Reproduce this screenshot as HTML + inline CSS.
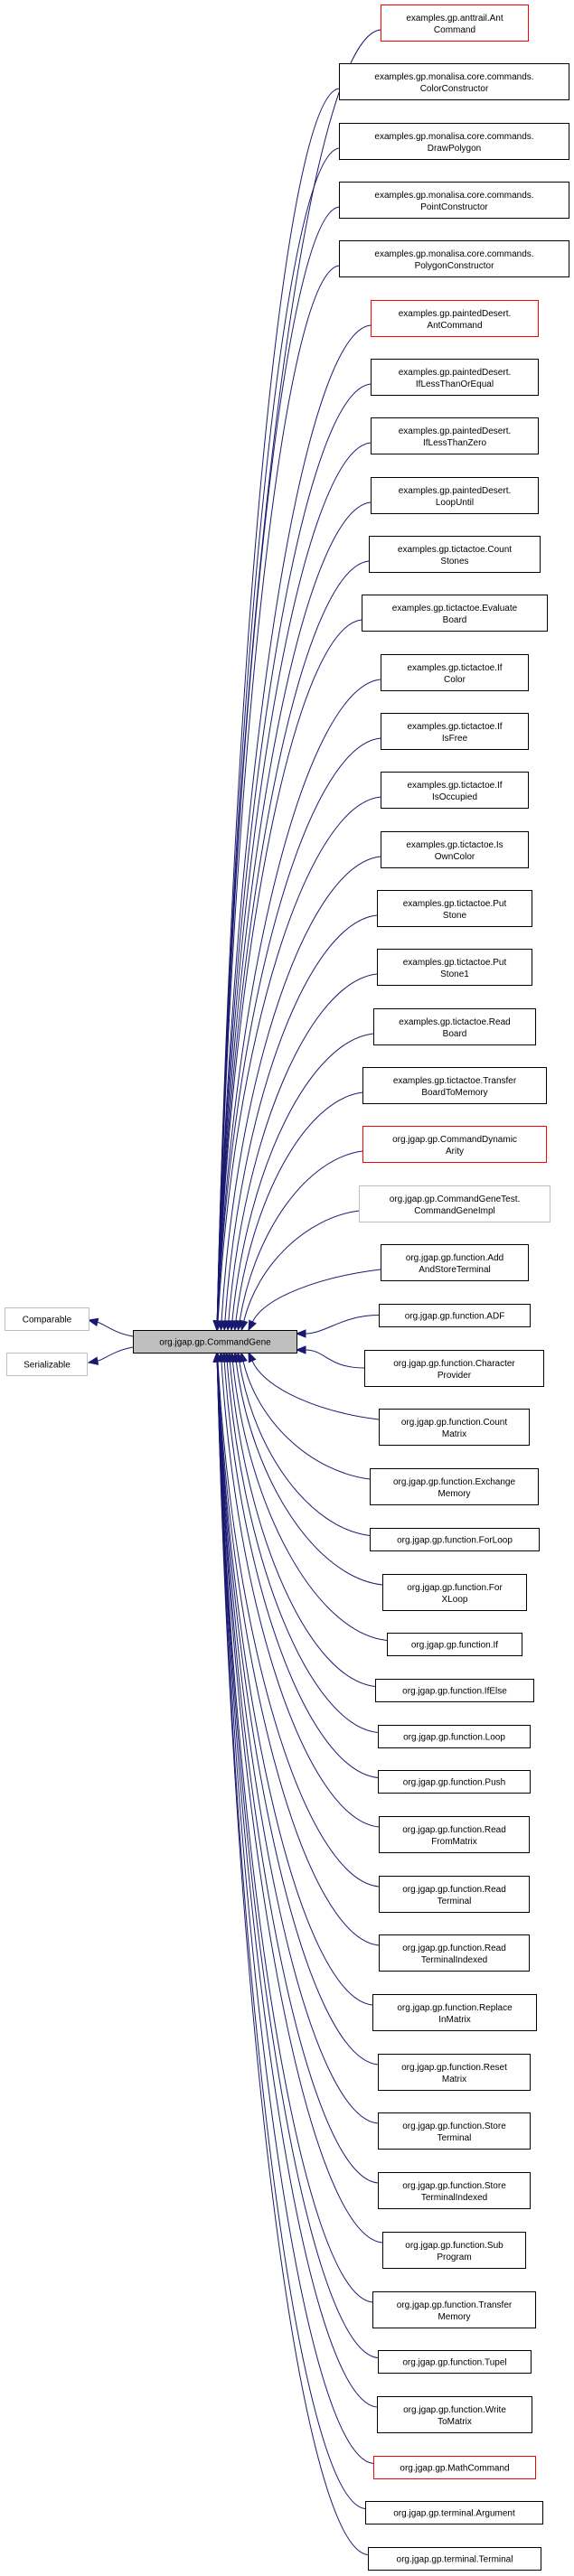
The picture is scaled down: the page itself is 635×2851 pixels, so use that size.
<!DOCTYPE html>
<html><head><meta charset="utf-8"><style>
html,body{margin:0;padding:0;background:#fff;width:635px;height:2851px;overflow:hidden}
svg{display:block}
text{font-family:"Liberation Sans",Arial,sans-serif;font-size:10px;fill:#000}
</style></head><body>
<svg id="g" width="635" height="2851" viewBox="0 0 635 2851" xmlns="http://www.w3.org/2000/svg"></svg>
<script>
var N=[
["examples.gp.anttrail.Ant|Command",163,"r"],
["examples.gp.monalisa.core.commands.|ColorConstructor",254],
["examples.gp.monalisa.core.commands.|DrawPolygon",254],
["examples.gp.monalisa.core.commands.|PointConstructor",254],
["examples.gp.monalisa.core.commands.|PolygonConstructor",254],
["examples.gp.paintedDesert.|AntCommand",185,"r"],
["examples.gp.paintedDesert.|IfLessThanOrEqual",185],
["examples.gp.paintedDesert.|IfLessThanZero",185],
["examples.gp.paintedDesert.|LoopUntil",185],
["examples.gp.tictactoe.Count|Stones",189],
["examples.gp.tictactoe.Evaluate|Board",205],
["examples.gp.tictactoe.If|Color",163],
["examples.gp.tictactoe.If|IsFree",163],
["examples.gp.tictactoe.If|IsOccupied",163],
["examples.gp.tictactoe.Is|OwnColor",163],
["examples.gp.tictactoe.Put|Stone",171],
["examples.gp.tictactoe.Put|Stone1",171],
["examples.gp.tictactoe.Read|Board",179],
["examples.gp.tictactoe.Transfer|BoardToMemory",203],
["org.jgap.gp.CommandDynamic|Arity",203,"r"],
["org.jgap.gp.CommandGeneTest.|CommandGeneImpl",211,"g"],
["org.jgap.gp.function.Add|AndStoreTerminal",163],
["org.jgap.gp.function.ADF",167],
["org.jgap.gp.function.Character|Provider",198],
["org.jgap.gp.function.Count|Matrix",166],
["org.jgap.gp.function.Exchange|Memory",186],
["org.jgap.gp.function.ForLoop",187],
["org.jgap.gp.function.For|XLoop",159],
["org.jgap.gp.function.If",149],
["org.jgap.gp.function.IfElse",175],
["org.jgap.gp.function.Loop",168],
["org.jgap.gp.function.Push",168],
["org.jgap.gp.function.Read|FromMatrix",166],
["org.jgap.gp.function.Read|Terminal",166],
["org.jgap.gp.function.Read|TerminalIndexed",166],
["org.jgap.gp.function.Replace|InMatrix",181],
["org.jgap.gp.function.Reset|Matrix",168],
["org.jgap.gp.function.Store|Terminal",168],
["org.jgap.gp.function.Store|TerminalIndexed",168],
["org.jgap.gp.function.Sub|Program",158],
["org.jgap.gp.function.Transfer|Memory",180],
["org.jgap.gp.function.Tupel",169],
["org.jgap.gp.function.Write|ToMatrix",171],
["org.jgap.gp.MathCommand",179,"r"],
["org.jgap.gp.terminal.Argument",196],
["org.jgap.gp.terminal.Terminal",191]
];
var s='';var NS='#191970';
function box(x,y,w,h,stroke,lines,fill){
 s+='<rect x="'+(x+.5)+'" y="'+(y+.5)+'" width="'+w+'" height="'+h+'" fill="'+(fill||'#fff')+'" stroke="'+stroke+'" stroke-width="1"/>';
 var cx=x+w/2+.5;
 if(lines.length==1) s+='<text x="'+cx+'" y="'+(y+h/2+4)+'" text-anchor="middle">'+lines[0]+'</text>';
 else {s+='<text x="'+cx+'" y="'+(y+h/2-2)+'" text-anchor="middle">'+lines[0]+'</text>';s+='<text x="'+cx+'" y="'+(y+h/2+11)+'" text-anchor="middle">'+lines[1]+'</text>';}
}
function edge(x0,y0,c1x,c1y,c2x,c2y,ex,ey){
 var dx=ex-c2x,dy=ey-c2y,l=Math.sqrt(dx*dx+dy*dy)||1;dx/=l;dy/=l;
 var bx=ex-dx*10,by=ey-dy*10,px=-dy*4,py=dx*4;
 s+='<path d="M'+x0+','+y0+' C'+c1x+','+c1y+' '+c2x+','+c2y+' '+bx+','+by+'" fill="none" stroke="'+NS+'" stroke-width="1"/>';
 s+='<polygon points="'+ex+','+ey+' '+(bx+px)+','+(by+py)+' '+(bx-px)+','+(by-py)+'" fill="'+NS+'" stroke="'+NS+'"/>';
}
var ys=[];
for(var i=0;i<=21;i++) ys.push(5+i*65.33);
var y=1443;
for(var i=22;i<N.length;i++){ys.push(y);var h=N[i][0].indexOf('|')>=0?40:25;y+=h+25.7;}
var MT=1472,MB=1497;
for(var i=0;i<N.length;i++){
 var two=N[i][0].indexOf('|')>=0,h=two?40:25,w=N[i][1],x=Math.round(502-w/2),yy=Math.round(ys[i]);
 var my=yy+h/2;
 var ex;
 if(i==22){edge(x,my,x-40,my,360,1476,328,1476);}
 else if(i==23){edge(x,my,x-40,my,360,1494,328,1494);}
 else if(my<1472){
  var sy=my+(two?8:4);
  var d=MT-sy;ex=240+Math.max(0,Math.min(1,(600-d)/600))*35;
  if(d<100) ex=275;
  edge(x,sy,x-(x-ex)*0.45,sy+8,ex+18,sy+d*0.45,ex,MT);
 } else {
  var sy=my-(two?8:4);
  var d=sy-MB;ex=240+Math.max(0,Math.min(1,(600-d)/600))*35;
  if(d<100) ex=275;
  edge(x,sy,x-(x-ex)*0.45,sy-8,ex+18,sy-d*0.45,ex,MB);
 }
 var st=N[i][2]=='r'?'#ff0000':(N[i][2]=='g'?'#bfbfbf':'#000');
 box(x,yy,w,h,st,N[i][0].split('|'));
}
edge(147,1479,125,1475,115,1465,98,1461);
edge(147,1491,125,1495,115,1505,98,1508);
box(5,1447,93,25,'#bfbfbf',['Comparable']);
box(7,1497,89,25,'#bfbfbf',['Serializable']);
box(147,1472,181,25,'#000',['org.jgap.gp.CommandGene'],'#bfbfbf');
document.getElementById('g').innerHTML=s;
</script>
</body></html>
